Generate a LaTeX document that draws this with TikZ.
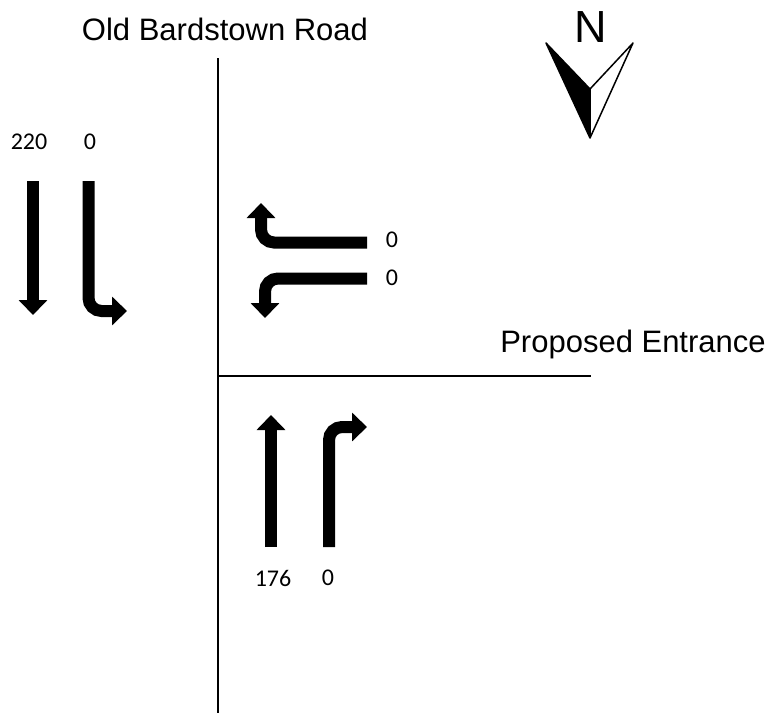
\documentclass[tikz,border=0pt]{standalone}
\usepackage{fontspec}
\setmainfont{Liberation Sans}
\newfontfamily\volfont{Carlito}
\usetikzlibrary{arrows.meta,positioning}

\begin{document}
\begin{tikzpicture}[x=1pt,y=-1pt,every node/.style={inner sep=0pt},
  road/.style={line width=2pt},
  mov/.style={line width=12pt,rounded corners=13pt,-{Triangle[width=28pt,length=15pt]}},
  vol/.style={font=\volfont\fontsize{24}{28}\selectfont},
  street/.style={font=\fontsize{31}{36}\selectfont,anchor=base}]
\useasboundingbox (0,0) rectangle (774,713);
\coordinate (rtop) at (218,58);
\coordinate (rbot) at (218,713);
\coordinate (ent) at (218,376);
\coordinate (entend) at (591,376);
\draw[road] (rtop) -- (rbot);
\draw[road] (ent) -- (entend);
\node[street] (old) at (225,40) {Old Bardstown Road};
\node[street] (prop) at (633,352) {Proposed Entrance};
\node[font=\fontsize{45}{50}\selectfont,anchor=base] (north) at (591,42) {N};
\coordinate (nl) at (546,43);
\coordinate (nr) at (633,43);
\coordinate (nm) at (590,89);
\coordinate (nt) at (590,138);
\fill[draw,line width=1.5pt,line join=round] (nl) -- (nm) -- (nt) -- cycle;
\draw[line width=1.5pt,line join=round] (nm) -- (nr) -- (nt);
\node[vol] (sbt) at (29,142) {220};
\node[vol] (sbr) at (90,142) {0};
\node[vol] (wbl) at (392,240) {0};
\node[vol] (wbr) at (392,278) {0};
\node[vol] (nbt) at (273,578) {176};
\node[vol] (nbr) at (328,578) {0};
\draw[mov] (33,181) -- (33,315);
\draw[mov] (88.5,181) |- (127,311);
\draw[mov] (367,242.5) -| (261,203);
\draw[mov] (367,278.5) -| (265,318);
\draw[mov] (271,547) -- (271,415);
\draw[mov] (329,547) |- (367,427);
\end{tikzpicture}
\end{document}
